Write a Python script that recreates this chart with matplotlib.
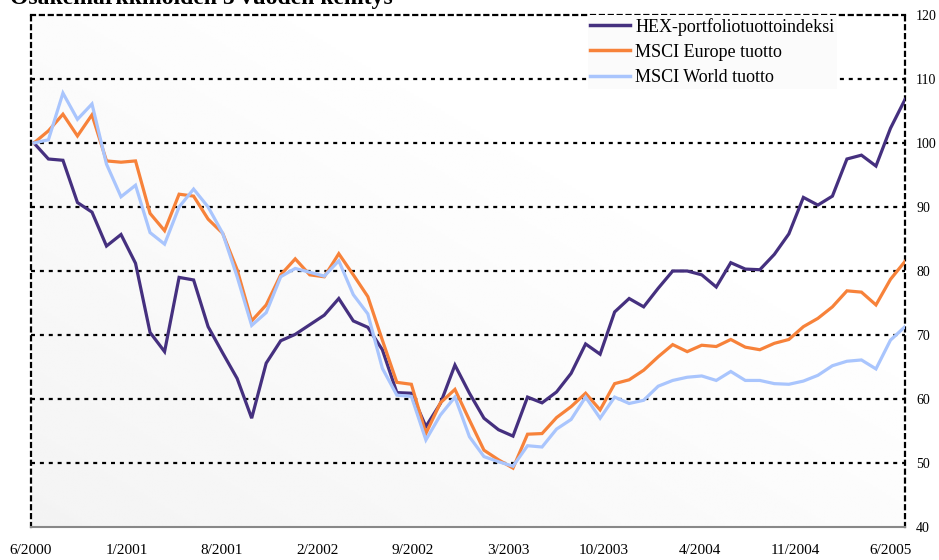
import numpy as np
import matplotlib
matplotlib.use("Agg")
import matplotlib.pyplot as plt

title = "Osakemarkkinoiden 5 vuoden kehitys"
series_names = ["HEX-portfoliotuottoindeksi", "MSCI Europe tuotto", "MSCI World tuotto"]
tick_labels = ["6/2000", "1/2001", "8/2001", "2/2002", "9/2002", "3/2003",
               "10/2003", "4/2004", "11/2004", "6/2005"]
y_ticks = [40, 50, 60, 70, 80, 90, 100, 110, 120]

hex_vals = [100.0, 97.5, 97.3, 90.7, 89.2, 83.9, 85.7, 81.2, 70.4, 67.4,
            79.0, 78.6, 71.3, 67.2, 63.2, 57.0, 65.6, 69.1, 70.1, 71.6,
            73.1, 75.7, 72.2, 71.2, 67.7, 61.0, 60.9, 55.7, 59.3, 65.3,
            60.9, 57.0, 55.2, 54.2, 60.3, 59.4, 61.1, 64.0, 68.6, 67.0,
            73.6, 75.7, 74.4, 77.3, 80.0, 80.0, 79.4, 77.5, 81.3, 80.3,
            80.2, 82.6, 85.8, 91.5, 90.3, 91.7, 97.5, 98.1, 96.4, 102.3,
            106.8]
europe_vals = [100.0, 101.9, 104.5, 101.1, 104.4, 97.2, 97.0, 97.2, 89.0, 86.3,
               92.0, 91.7, 88.1, 85.9, 80.2, 72.2, 74.7, 79.4, 81.9, 79.4,
               79.1, 82.7, 79.4, 76.0, 69.2, 62.6, 62.3, 54.6, 59.4, 61.5,
               56.7, 52.0, 50.5, 49.2, 54.5, 54.6, 57.1, 58.8, 60.9, 58.3,
               62.4, 63.0, 64.5, 66.6, 68.5, 67.4, 68.4, 68.2, 69.3, 68.1,
               67.7, 68.7, 69.3, 71.3, 72.6, 74.4, 76.9, 76.7, 74.7, 78.7,
               81.5]
world_vals = [100.0, 100.5, 107.8, 103.7, 106.1, 96.7, 91.6, 93.4, 86.0, 84.2,
              90.0, 92.8, 90.0, 85.9, 79.1, 71.5, 73.5, 79.1, 80.4, 79.8,
              79.2, 81.6, 76.3, 73.3, 64.8, 60.6, 60.4, 53.6, 57.5, 60.3,
              54.1, 51.0, 50.2, 49.5, 52.7, 52.5, 55.3, 56.8, 60.3, 57.0,
              60.3, 59.3, 59.8, 62.0, 62.9, 63.4, 63.6, 62.9, 64.3, 62.9,
              62.9, 62.4, 62.3, 62.8, 63.7, 65.2, 65.9, 66.1, 64.7, 69.2,
              71.3]

colors = ["#45307f", "#f7823a", "#a9c5fd"]
serif = ["Liberation Serif", "DejaVu Serif"]
plt.rcParams["font.family"] = serif

fig = plt.figure(figsize=(9.39, 5.60), dpi=100)
ax = fig.add_axes([31/939, 1 - 527/560, (905 - 31)/939, (527 - 15)/560])

x = np.arange(len(hex_vals))
ax.set_xlim(-0.15, len(hex_vals) - 1)
ax.set_ylim(40, 120)

# subtle background gradient
gx, gy = np.meshgrid(np.linspace(0, 1, 200), np.linspace(0, 1, 200))
grad = 0.955 + 0.045 * np.clip((gx + gy) / 1.4, 0, 1)
ax.imshow(grad, extent=[-0.15, len(hex_vals) - 1, 40, 120], origin="lower",
          cmap="gray", vmin=0, vmax=1, aspect="auto", zorder=0, interpolation="bilinear")

for v in y_ticks[1:-1]:
    ax.axhline(v, color="black", lw=1.6, ls=(0, (1.8, 2.2)), zorder=1)

for vals, name, c in zip([hex_vals, europe_vals, world_vals], series_names, colors):
    ax.plot(x, vals, color=c, lw=2.3, label=name, zorder=3, solid_joinstyle="miter")

for side in ["left", "top", "right"]:
    ax.spines[side].set_linestyle((0, (1.8, 2.2)))
    ax.spines[side].set_linewidth(1.6)
    ax.spines[side].set_color("black")
ax.spines["bottom"].set_color("#888888")
ax.spines["bottom"].set_linewidth(1.5)

ax.yaxis.tick_right()
ax.set_yticks(y_ticks)
ax.set_yticklabels([str(v) for v in y_ticks])
n = len(hex_vals) - 1
ax.set_xticks(np.linspace(-0.2, n - 1.0, len(tick_labels)))
ax.set_xticklabels(tick_labels)
ax.tick_params(axis="both", length=0)
ax.tick_params(axis="x", labelsize=11, pad=12)
ax.tick_params(axis="y", labelsize=10, pad=8)

leg = ax.legend(loc="upper left", bbox_to_anchor=(0.637, 1.0), fontsize=13,
                frameon=True, fancybox=False, framealpha=1, edgecolor="none",
                facecolor="#fbfbfb", handlelength=2.2, handletextpad=0.28,
                labelspacing=0.45, borderpad=0.15, borderaxespad=0)
leg.set_zorder(4)
for line in leg.get_lines():
    line.set_linewidth(2.5)

fig.text(10/939, 1 - 4/560, title, fontsize=17, fontweight="bold",
         va="baseline", ha="left", family=serif)

fig.savefig("out.png", dpi=100)
